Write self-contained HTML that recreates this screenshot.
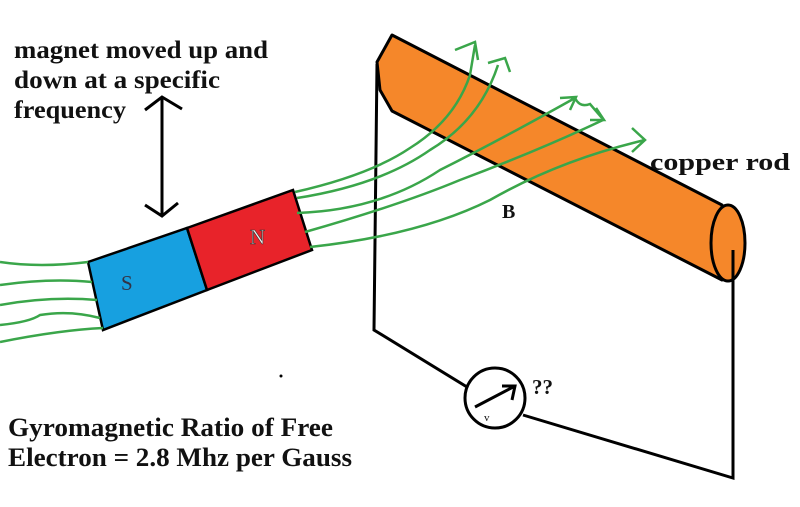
<!DOCTYPE html>
<html><head><style>
html,body{margin:0;padding:0;background:#fff;}
svg{display:block;}
text{font-family:"Liberation Serif",serif;font-weight:bold;fill:#111;}
</style></head><body>
<svg width="800" height="507" viewBox="0 0 800 507" xmlns="http://www.w3.org/2000/svg">
<rect width="800" height="507" fill="#fff"/>
<!-- rod -->
<path d="M392,35 L722,205 L722,280 L392,111 L380,90 L377,62 Z" fill="#f5872a" stroke="#000" stroke-width="3" stroke-linejoin="round"/>
<ellipse cx="728" cy="243" rx="17" ry="38" fill="#f5872a" stroke="#000" stroke-width="3"/>
<!-- wire -->
<g stroke="#000" stroke-width="3" fill="none">
<path d="M377,64 L374,330 L467,387"/>
<path d="M523,415 L733,478 L733,250"/>
<circle cx="495" cy="398" r="30" fill="#fff"/>
<path d="M475,407 L515,386 M502,386 L515,386 L512,400"/>
<line x1="162" y1="98" x2="162" y2="215"/>
<path d="M145,110 L162,97 L182,109 M145,205 L162,216 L178,203"/>
</g>
<!-- magnet -->
<polygon points="88,262 187,228 207,290 103,330" fill="#17a0e0" stroke="#000" stroke-width="2.5"/>
<polygon points="187,228 293,190 312,250 207,290" fill="#e8232a" stroke="#000" stroke-width="2.5"/>
<text x="121" y="290" font-size="21" style="fill:#334;font-weight:normal">S</text>
<text x="250" y="244" font-size="21" style="fill:#eee;font-weight:normal;stroke:#333;stroke-width:0.6">N</text>
<!-- field lines -->
<g stroke="#3aa64a" stroke-width="2.5" fill="none">
<path d="M0,262 Q40,268 88,262"/>
<path d="M0,285 Q50,278 92,282"/>
<path d="M0,305 Q50,296 97,300"/>
<path d="M0,325 Q30,322 40,315 Q70,310 100,318"/>
<path d="M0,342 Q60,330 103,328"/>
<path d="M295,192 Q370,175 410,148 Q455,120 470,75 L475,45 M455,50 L475,42 L478,60"/>
<path d="M297,198 Q380,185 430,150 Q480,120 498,65 M488,63 L505,58 L510,72"/>
<path d="M297,213 Q380,210 440,170 Q500,140 575,98 M560,98 L576,97 L570,110 M575,98 Q580,108 590,104 L602,118 M590,120 L604,120 L596,108"/>
<path d="M305,232 Q400,205 460,180 Q540,150 603,120"/>
<path d="M310,247 Q420,235 490,200 Q560,160 645,140 M632,128 L645,140 L632,152"/>
</g>
<!-- text -->
<g font-size="25">
<text x="14" y="58" textLength="254" lengthAdjust="spacingAndGlyphs">magnet moved up and</text>
<text x="14" y="88" textLength="206" lengthAdjust="spacingAndGlyphs">down at a specific</text>
<text x="14" y="118" textLength="112" lengthAdjust="spacingAndGlyphs">frequency</text>
</g>
<text x="650" y="170" font-size="24" textLength="140" lengthAdjust="spacingAndGlyphs">copper rod</text>
<text x="502" y="218" font-size="20">B</text>
<text x="532" y="394" font-size="21">??</text>
<text x="484" y="421" font-size="11" style="font-weight:normal">v</text>
<g font-size="26">
<text x="8" y="436" textLength="325" lengthAdjust="spacingAndGlyphs">Gyromagnetic Ratio of Free</text>
<text x="8" y="466" textLength="344" lengthAdjust="spacingAndGlyphs">Electron = 2.8 Mhz per Gauss</text>
</g>
<circle cx="281" cy="376" r="1.5" fill="#000"/>
</svg>
</body></html>
